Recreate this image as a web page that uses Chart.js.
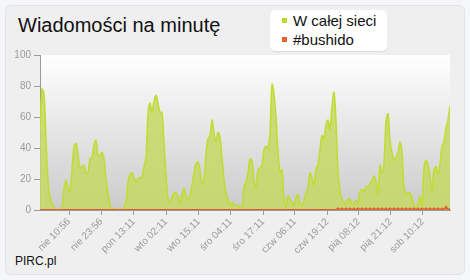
<!DOCTYPE html>
<html>
<head>
<meta charset="utf-8">
<script src="https://cdn.jsdelivr.net/npm/chart.js@4"></script>
<style>
	html, body { margin: 0; padding: 0; }
	body { width: 470px; height: 280px; background: #f5f6f8; position: relative; overflow: hidden; font-family: "Liberation Sans", Arial, sans-serif; }
	#panel { position: absolute; left: 5px; top: 5px; width: 458px; height: 268px; background: #efefef; border: 1px solid #e2e3e6; border-radius: 6px; }
	#title { position: absolute; left: 18px; top: 14px; font-size: 20px; color: #111; white-space: nowrap; }
	#legend { position: absolute; left: 270px; top: 10px; width: 117px; height: 41px; background: #fff; border-radius: 5px; box-shadow: 0 1px 1px rgba(0,0,0,0.08); }
	.item { position: absolute; left: 12px; font-size: 15px; color: #111; white-space: nowrap; }
	.item span { display: inline-block; width: 5px; height: 5px; margin-right: 6px; vertical-align: 3px; }
	#foot { position: absolute; left: 15px; top: 254px; font-size: 12px; color: #111; }
	canvas { position: absolute; left: 0; top: 0; }
</style>
</head>
<body>
<div id="panel"></div>
<div id="title">Wiadomości na minutę</div>
<div id="legend">
	<div class="item" style="top:2px"><span style="background:#b8d832"></span>W całej sieci</div>
	<div class="item" style="top:21px"><span style="background:#e0622c"></span>#bushido</div>
</div>
<div id="foot">PIRC.pl</div>
<canvas id="chart" width="470" height="280"></canvas>
<script>
// wiadomosci na minute, probka co ok. 48 min
const allMessages = [
	52, 78, 75, 45, 19, 8, 4, 2, 0, 0, 0, 1, 14, 19, 15, 12, 26, 41, 43, 36,
	27, 28, 29, 24, 24, 33, 34, 42, 45, 35, 35, 37, 33, 20, 11, 3, 0, 1, 1, 0,
	0, 0, 2, 5, 18, 23, 24, 21, 18, 20, 21, 21, 28, 34, 62, 69, 63, 70, 74, 69,
	63, 63, 43, 23, 7, 5, 8, 11, 11, 9, 4, 10, 14, 9, 7, 10, 16, 24, 30, 31,
	26, 17, 20, 36, 46, 48, 58, 50, 44, 50, 47, 34, 20, 11, 7, 3, 5, 3, 3, 3,
	2, 2, 15, 18, 24, 33, 32, 19, 15, 26, 27, 29, 39, 41, 40, 50, 81, 75, 60, 38,
	24, 26, 8, 2, 9, 7, 5, 3, 8, 10, 5, 3, 6, 11, 14, 24, 21, 16, 27, 29,
	39, 48, 46, 55, 58, 52, 67, 76, 57, 25, 12, 7, 5, 4, 7, 7, 4, 5, 6, 4,
	12, 13, 12, 15, 15, 17, 19, 22, 18, 10, 29, 24, 30, 57, 62, 45, 37, 32, 34, 37,
	44, 37, 14, 11, 11, 11, 8, 3, 2, 4, 9, 3, 27, 32, 29, 22, 12, 26, 28, 23,
	30, 41, 44, 53, 58, 67
];

const bushido = [
	0, 0, 0, 0, 0, 0, 0, 0, 0, 0, 0, 0, 0, 0, 0, 0, 0, 0, 0, 0,
	0, 0, 0, 0, 0, 0, 0, 0, 0, 0, 0, 0, 0, 0, 0, 0, 0, 0, 0, 0,
	0, 0, 0, 0, 0, 0, 0, 0, 0, 0, 0, 0, 0, 0, 0, 0, 0, 0, 0, 0,
	0, 0, 0, 0, 0, 0, 0, 0, 0, 0, 0, 0, 0, 0, 0, 0, 0, 0, 0, 0,
	0, 0, 0, 0, 0, 0, 0, 0, 0, 0, 0, 0, 0, 0, 0, 0, 0, 0, 0, 0,
	0, 0, 0, 0, 0, 0, 0, 0, 0, 0, 0, 0, 0, 0, 0, 0, 0, 0, 0, 0,
	0, 0, 0, 0, 0, 0, 0, 0, 0, 0, 0, 0, 0, 0, 0, 0, 0, 0, 0, 0,
	0, 0, 0, 0, 0, 0, 0, 0, 0, 1, 0, 1, 0, 1, 0, 1, 0, 1, 0, 1,
	0, 1, 0, 1, 0, 1, 0, 1, 0, 1, 0, 1, 0, 1, 0, 1, 0, 1, 0, 1,
	0, 1, 0, 1, 0, 1, 0, 1, 0, 1, 0, 1, 0, 1, 0, 1, 0, 1, 0, 1,
	0, 1, 0, 2, 0, 1
];

// pozycje etykiet osi x (w numerach probek) i ich teksty
const tickPositions = [14.5, 30.65, 46.85, 63, 79.35, 95.35, 111.5, 127.35, 143.65, 159.35, 175.35, 191.35];
const tickLabels = ["nie 10:56", "nie 23:56", "pon 13:11", "wto 02:11", "wto 15:11", "śro 04:11", "śro 17:11", "czw 06:11", "czw 19:12", "pią 08:12", "pią 21:12", "sob 10:12"];

const yTicks = [0, 20, 40, 60, 80, 100];

const toPoints = (arr) => arr.map((v, i) => ({ x: i, y: v }));

// tlo obszaru wykresu - gradient
const plotBackground = {
	id: "plotBackground",
	beforeDraw(chart) {
		const { ctx, chartArea: a } = chart;
		const g = ctx.createLinearGradient(0, a.top, 0, a.bottom);
		g.addColorStop(0, "#ffffff");
		g.addColorStop(1, "#cbcbcb");
		ctx.save();
		ctx.fillStyle = g;
		ctx.fillRect(a.left, a.top, a.right - a.left, a.bottom - a.top);
		ctx.restore();
	}
};

const ctx = document.getElementById("chart").getContext("2d");
new Chart(ctx, {
	type: "line",
	data: {
		datasets: [
			{
				label: "#bushido",
				data: toPoints(bushido),
				borderColor: "#e0622c",
				borderWidth: 2,
				pointRadius: 0,
				fill: false,
				tension: 0,
				order: 0
			},
			{
				label: "W całej sieci",
				data: toPoints(allMessages),
				borderColor: "#c0dc2e",
				backgroundColor: "rgba(196, 216, 100, 0.85)",
				borderWidth: 1.5,
				pointRadius: 0,
				fill: "origin",
				tension: 0.35,
				order: 1
			}
		]
	},
	options: {
		responsive: false,
		animation: false,
		layout: { padding: { left: 0, right: 20, top: 55, bottom: 0 } },
		plugins: { legend: { display: false }, tooltip: { enabled: false } },
		scales: {
			x: {
				type: "linear",
				min: 0,
				max: allMessages.length - 1,
				afterBuildTicks: (axis) => {
					axis.ticks = tickPositions.map((v) => ({ value: v }));
				},
				afterFit: (axis) => { axis.height = 70; },
				border: { color: "#9a9a9a", width: 1 },
				grid: { drawOnChartArea: false, tickLength: 5, color: "#9a9a9a" },
				ticks: {
					autoSkip: false,
					minRotation: 45,
					maxRotation: 45,
					padding: 1,
					color: "#9a9a9a",
					font: { family: "Liberation Sans", size: 10 },
					callback: (v, i) => tickLabels[i]
				}
			},
			y: {
				min: 0,
				max: 100,
				afterBuildTicks: (axis) => {
					axis.ticks = yTicks.map((v) => ({ value: v }));
				},
				afterFit: (axis) => { axis.width = 40; },
				border: { color: "#9a9a9a", width: 1 },
				grid: { drawOnChartArea: false, tickLength: 6, color: "#9a9a9a" },
				ticks: {
					padding: 3,
					color: "#9a9a9a",
					font: { family: "Liberation Sans", size: 10 }
				}
			}
		}
	},
	plugins: [plotBackground]
});
</script>
</body>
</html>
